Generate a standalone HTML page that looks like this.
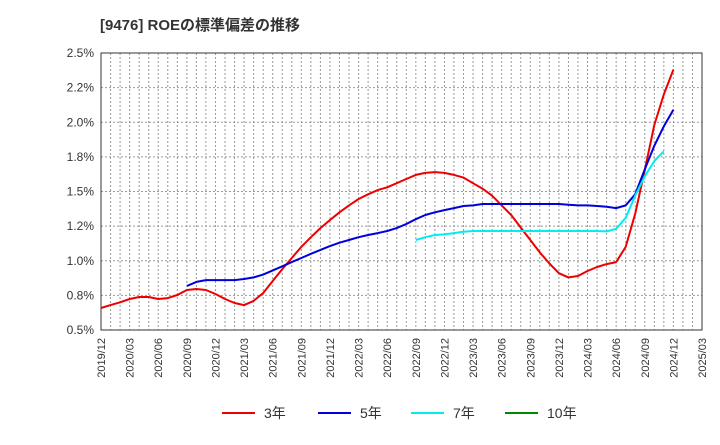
<!DOCTYPE html>
<html><head><meta charset="utf-8"><style>
body{margin:0;background:#fff;font-family:"Liberation Sans","Noto Sans CJK JP",sans-serif;}
</style></head><body>
<svg width="720" height="440" xmlns="http://www.w3.org/2000/svg">
<text x="100" y="30" font-size="15" font-weight="bold" fill="#333" font-family="Liberation Sans, Noto Sans CJK JP, sans-serif">[9476]  ROEの標準偏差の推移</text>
<g id="grid"></g><g id="axes"></g><g id="series"></g><g id="legend"></g>
</svg>
<script>
const yTicks=[0.5,0.75,1.0,1.25,1.5,1.75,2.0,2.25,2.5];
const yTickLabels=["0.5%","0.8%","1.0%","1.2%","1.5%","1.8%","2.0%","2.2%","2.5%"];
const xTickLabels=["2019/12","2020/03","2020/06","2020/09","2020/12","2021/03","2021/06","2021/09","2021/12","2022/03","2022/06","2022/09","2022/12","2023/03","2023/06","2023/09","2023/12","2024/03","2024/06","2024/09","2024/12","2025/03"];
const s3=[0.659,0.68,0.70,0.724,0.738,0.738,0.724,0.73,0.753,0.789,0.796,0.789,0.76,0.724,0.695,0.68,0.71,0.767,0.854,0.94,1.02,1.10,1.17,1.236,1.294,1.35,1.40,1.446,1.48,1.51,1.53,1.56,1.59,1.62,1.634,1.64,1.634,1.62,1.60,1.56,1.52,1.47,1.40,1.33,1.24,1.15,1.06,0.98,0.91,0.88,0.89,0.926,0.955,0.976,0.99,1.10,1.34,1.655,1.98,2.20,2.38];
const s5=[null,null,null,null,null,null,null,null,null,0.818,0.847,0.86,0.86,0.86,0.86,0.868,0.88,0.90,0.93,0.96,0.99,1.02,1.05,1.078,1.106,1.13,1.15,1.17,1.186,1.20,1.215,1.236,1.265,1.30,1.33,1.35,1.366,1.38,1.395,1.40,1.41,1.41,1.41,1.41,1.41,1.41,1.41,1.41,1.41,1.405,1.40,1.40,1.395,1.39,1.38,1.40,1.48,1.66,1.83,1.97,2.09];
const s7=[];for(let i=0;i<33;i++)s7.push(null);
s7.push(1.15,1.17,1.186,1.19,1.20,1.21,1.215,1.215,1.215,1.215,1.215,1.215,1.215,1.215,1.215,1.215,1.215,1.215,1.215,1.215,1.212,1.23,1.31,1.47,1.61,1.72,1.79);
const s10=[];
const L=101,R=702,T=53,B=330,NM=63;
const X=i=>L+(R-L)*i/NM, Y=v=>B-(v-0.5)/2.0*(B-T);
const NS="http://www.w3.org/2000/svg";
function mk(p,t,a){const e=document.createElementNS(NS,t);for(const k in a)e.setAttribute(k,a[k]);document.getElementById(p).appendChild(e);return e;}
for(let i=1;i<NM;i++){const g=mk('grid','line',{x1:X(i),x2:X(i),y1:T,y2:B,stroke:'#999','stroke-dasharray':'2,2','stroke-width':1});

}
yTicks.forEach((v,k)=>{const g=mk('grid','line',{x1:L,x2:R,y1:Y(v),y2:Y(v),stroke:'#999','stroke-dasharray':'2,2'});


const t=mk('axes','text',{x:L-7,y:Y(v)+4,'text-anchor':'end','font-size':12,fill:'#333'});t.textContent=yTickLabels[k];

});
const fr=mk('axes','rect',{x:L,y:T,width:R-L,height:B-T,fill:'none',stroke:'#333'});


xTickLabels.forEach((s,k)=>{const x=X(k*3);const t=mk('axes','text',{x:0,y:0,transform:`translate(${x+4},${B+8}) rotate(-90)`,'text-anchor':'end','font-size':11,fill:'#333'});t.textContent=s;

});
function line(arr,col,name){let d='';let pen=false;arr.forEach((v,i)=>{if(v==null){pen=false;return;}d+=(pen?'L':'M')+X(i).toFixed(1)+','+Y(v).toFixed(1);pen=true;});
if(!d)return;const p=mk('series','path',{d:d,fill:'none',stroke:col,'stroke-width':2,'stroke-linejoin':'round'});

}
line(s3,'#e00','series-3yr');line(s5,'#00d','series-5yr');line(s7,'#0ee','series-7yr');line(s10,'#080','series-10yr');
[[222,'#e00','3年'],[318,'#00d','5年'],[411,'#0ee','7年'],[505,'#080','10年']].forEach(([x,c,s])=>{
const l=mk('legend','line',{x1:x,x2:x+33,y1:413,y2:413,stroke:c,'stroke-width':2});


const t=mk('legend','text',{x:x+42,y:418,'font-size':14,fill:'#333'});t.textContent=s;

});
</script>
</body></html>
